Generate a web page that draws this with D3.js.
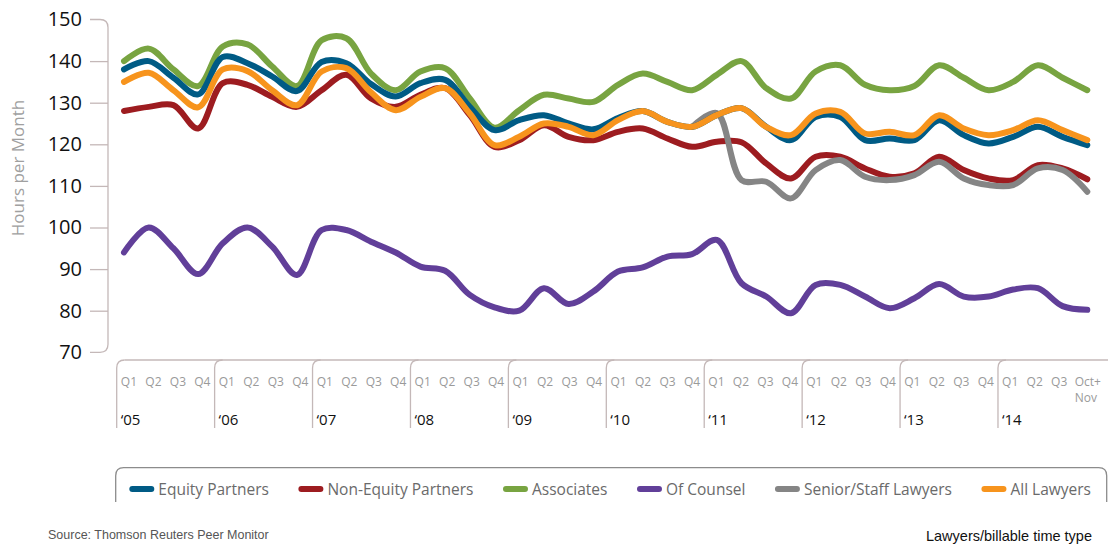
<!DOCTYPE html>
<html><head><meta charset="utf-8">
<script src="https://cdn.jsdelivr.net/npm/d3@7"></script>
<style>body{margin:0;background:#fff}svg{display:block}</style>
</head><body><svg id="c" width="1108" height="544"></svg>
<script>
// ---------- data ----------
const quarterLabels = [
  "Q1","Q2","Q3","Q4","Q1","Q2","Q3","Q4","Q1","Q2","Q3","Q4","Q1","Q2","Q3","Q4",
  "Q1","Q2","Q3","Q4","Q1","Q2","Q3","Q4","Q1","Q2","Q3","Q4","Q1","Q2","Q3","Q4",
  "Q1","Q2","Q3","Q4","Q1","Q2","Q3","Oct+\nNov"];
const yearLabels = ["\u201805","\u201806","\u201807","\u201808","\u201809","\u201810","\u201811","\u201812","\u201813","\u201814"];
const yTicks = [70,80,90,100,110,120,130,140,150];
const seriesNames = ["Equity Partners","Non-Equity Partners","Associates","Of Counsel","Senior/Staff Lawyers","All Lawyers"];
const seriesColors = ["#005b85","#9d1c20","#78a441","#613f99","#858585","#f7941d"];

const equityPartners = [
  138,140,136,132, 141,139.5,136.3,132.8, 139.8,139.5,134.5,131.5, 134.7,135.5,129,123.4,
  125.8,127,125,123.6, 126.3,128,125.4,124.2, 127,128.7,124.2,121, 126.6,126.6,121,121.4,
  121,125.8,122.2,120.2, 121.8,124.2,121.8,119.8];
const nonEquityPartners = [
  128,129,129.4,123.8, 134.7,134.3,131.4,129, 133,136.7,131,129, 131.9,133.5,127,119.4,
  121,124.6,121.8,121, 123,123.8,121.4,119.4, 120.6,120.5,115.4,111.8, 117,117,114.2,112.2,
  113,117,113.8,111.8, 111.4,115,114.2,111.6];
const associates = [
  140,143,138,134, 143.5,144,138.7,134, 145,145.5,137,133, 137.5,138.3,131,124,
  128.2,131.9,131,130.2, 134.3,137,135,133, 136.7,140,133.5,131, 137.5,139,134.3,133,
  134,139,136,133, 135,139,136,133];
const ofCounsel = [
  94,100,95,88.8, 96.2,100,95.4,88.6, 99.4,99.4,96.6,94, 90.6,89.6,83.8,80.8,
  80,85.4,81.6,84.6, 89.4,90.4,93,93.6, 97,86.6,83.4,79.4, 86.2,86.2,83.4,80.6,
  83,86.4,83.4,83.4, 85.1,85.4,81.1,80.2];
const seniorStaff = [
  null,null,null,null, null,null,null,null, null,null,null,null, null,null,null,null,
  null,null,null,null, null,null,null,124.2, 127.5,111.4,111,107, 113.8,116.2,112.2,111.4,
  112.6,115.8,111.8,110.2, 110.2,114.2,113.8,108.6];
const allLawyers = [
  135,137.2,133,128.9, 138,137.6,133,129.4, 137.5,138.3,132.5,128.2, 131.4,133.5,127.4,119.8,
  121.8,125,124.2,122.2, 125.8,128,125.4,124.2, 127,128.7,124.2,122.2, 127.4,127.8,122.6,123,
  122.2,127,123.8,122.2, 123.4,125.8,123.4,121];

const seriesValues = [equityPartners, nonEquityPartners, associates, ofCounsel, seniorStaff, allLawyers];
const drawOrder = [2,3,1,4,0,5];

// ---------- chart ----------
const svg = d3.select("#c");
const font = "'Open Sans', 'Noto Sans', sans-serif";
const axisColor = "#c4b8b8";

const x = d3.scaleLinear().domain([0, 39]).range([124, 1087.3]);
const y = d3.scaleLinear().domain([70, 150]).range([352.3, 19.5]);
const xl = d3.scaleLinear().domain([0, 40]).range([116.7, 116.7 + 40 * 24.48]);

// y axis
const yAxis = d3.axisLeft(y).tickValues(yTicks).tickSize(18).tickPadding(8);
const gy = svg.append("g").attr("transform", "translate(108,0)").call(yAxis);
gy.select(".domain").remove();
gy.selectAll(".tick line").attr("stroke", axisColor).attr("stroke-width", 1.3)
  .filter(d => d === 150 || d === 70).remove();
gy.selectAll(".tick text").attr("font-family", font).attr("font-size", 20).attr("fill", "#111");
const r = 8;
svg.append("path")
  .attr("d", `M90,${y(150)} H${108 - r} Q108,${y(150)} 108,${y(150) + r} V${y(70) - r} Q108,${y(70)} ${108 - r},${y(70)} H90`)
  .attr("fill", "none").attr("stroke", axisColor).attr("stroke-width", 1.3);

svg.append("text")
  .attr("transform", "translate(24,168) rotate(-90)")
  .attr("text-anchor", "middle").attr("font-family", font).attr("font-size", 17)
  .attr("fill", "#a0a0a0").text("Hours per Month");

// x axis frame
const topY = 360, botY = 428;
svg.append("line").attr("x1", xl(0) + r).attr("x2", 1108).attr("y1", topY).attr("y2", topY)
  .attr("stroke", axisColor).attr("stroke-width", 1.3);
svg.append("g").selectAll("path").data(yearLabels).join("path")
  .attr("d", (d, i) => { const bx = xl(i * 4); return `M${bx},${botY} V${topY + r} Q${bx},${topY} ${bx + r},${topY}`; })
  .attr("fill", "none").attr("stroke", axisColor).attr("stroke-width", 1.3);
svg.append("g").selectAll("text").data(yearLabels).join("text")
  .attr("x", (d, i) => xl(i * 4) + 4).attr("y", 425)
  .attr("font-family", font).attr("font-size", 15).attr("fill", "#111").text(d => d);

const ql = svg.append("g").selectAll("text").data(quarterLabels).join("text")
  .attr("font-family", font).attr("font-size", 12).attr("fill", "#9a9a9a");
ql.each(function(d, i) {
  const t = d3.select(this);
  const c = xl(i) + 12.24;
  const lines = d.split("\n");
  if (lines.length === 1) {
    t.attr("x", c).attr("y", 386).attr("text-anchor", "middle").text(d);
  } else {
    t.attr("text-anchor", "start");
    lines.forEach((ln, k) => t.append("tspan").attr("x", c - 9).attr("y", 386 + k * 16).text(ln));
  }
});

// lines
const line = d3.line()
  .defined(d => d != null)
  .x((d, i) => x(i)).y(d => y(d))
  .curve(d3.curveCatmullRom.alpha(0.5));
svg.append("g").selectAll("path").data(drawOrder).join("path")
  .attr("d", k => line(seriesValues[k]))
  .attr("fill", "none").attr("stroke", k => seriesColors[k])
  .attr("stroke-width", 6).attr("stroke-linecap", "round").attr("stroke-linejoin", "round");

// legend
svg.append("path")
  .attr("d", `M115.7,502 V${467.7 + r} Q115.7,467.7 ${115.7 + r},467.7 H${1106.7 - r} Q1106.7,467.7 1106.7,${467.7 + r} V502`)
  .attr("fill", "none").attr("stroke", "#8c8c8c").attr("stroke-width", 1.3);
const lg = svg.append("g");
const items = seriesNames.map((n, i) => {
  const g = lg.append("g");
  g.append("line").attr("x1", 3).attr("x2", 22).attr("y1", 489).attr("y2", 489)
    .attr("stroke", seriesColors[i]).attr("stroke-width", 6).attr("stroke-linecap", "round");
  const t = g.append("text").attr("x", 29).attr("y", 495).attr("font-family", font)
    .attr("font-size", 15.5).attr("fill", "#6a6a6a").text(n);
  return {g, w: 29 + t.node().getComputedTextLength()};
});
const startX = 129.3, endX = 1091;
const total = d3.sum(items, d => d.w);
const gap = (endX - startX - total) / (items.length - 1);
let cx = startX;
items.forEach(it => { it.g.attr("transform", `translate(${cx},0)`); cx += it.w + gap; });

// footer
svg.append("text").attr("x", 48).attr("y", 539).attr("font-family", "'Liberation Sans', Arial, sans-serif")
  .attr("font-size", 12.5).attr("fill", "#555").text("Source: Thomson Reuters Peer Monitor");
svg.append("text").attr("x", 1092).attr("y", 541).attr("text-anchor", "end")
  .attr("font-family", "'Liberation Sans', Arial, sans-serif")
  .attr("font-size", 14.5).attr("fill", "#111").text("Lawyers/billable time type");
</script></body></html>
